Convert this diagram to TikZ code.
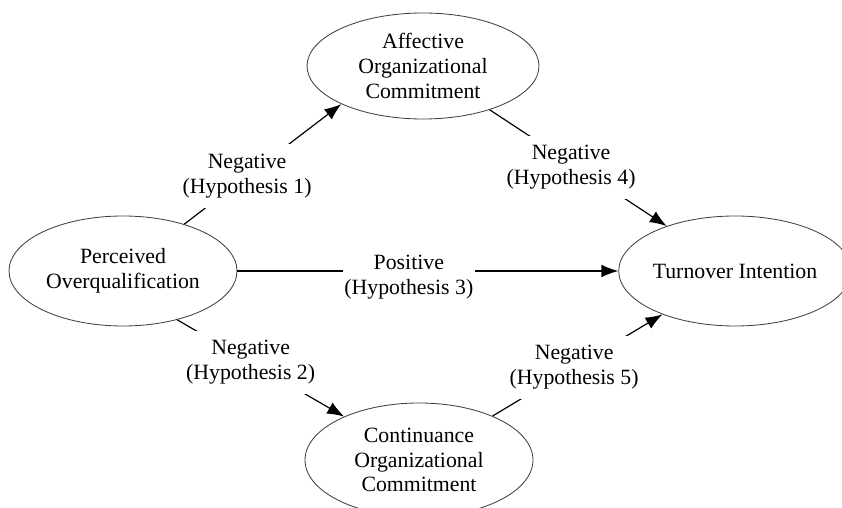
\documentclass[tikz,border=0pt]{standalone}
\usepackage{fontspec}
\setmainfont{Liberation Serif}
\usepackage{tikz}
\usetikzlibrary{shapes.geometric}
\usetikzlibrary{arrows.meta}

\tikzset{
	construct/.style={ellipse,draw=black!75,line width=0.6pt,inner sep=0pt,align=center,font=\fontsize{15.5}{17.5}\selectfont},
	hyp/.style={fill=white,inner xsep=1pt,inner ysep=7pt,align=center,font=\fontsize{15.5}{17.5}\selectfont},
	link/.style={line width=0.85pt,-{Latex[length=12pt,width=9pt]}}
}

\begin{document}
\begin{tikzpicture}
	\useasboundingbox (0,0) rectangle (21.05,12.675);
	
	\node [construct,minimum width=5.7cm,minimum height=2.75cm] (poq) at (3.075,5.9) {Perceived\\Overqualification};
	\node [construct,minimum width=5.8cm,minimum height=2.65cm] (aoc) at (10.575,11.025) {Affective\\Organizational\\Commitment};
	\node [construct,minimum width=5.7cm,minimum height=2.85cm] (coc) at (10.475,1.175) {Continuance\\Organizational\\Commitment};
	\node [construct,minimum width=5.5cm,minimum height=2.75cm] (toi) at (18.375,5.9) {Turnover Intention};
	
	\draw [link] (poq) -- node [hyp,pos=0.4] (h1) {Negative\\(Hypothesis 1)} (aoc.205);
	\draw [link] (poq.-42) -- node [hyp,pos=0.44] (h2) {Negative\\(Hypothesis 2)} (coc);
	\draw [link] (poq) -- node [hyp,pos=0.45,yshift=-0.15cm] (h3) {Positive\\(Hypothesis 3)} (toi);
	\draw [link] (aoc) -- node [hyp,pos=0.46,yshift=-0.1cm] (h4) {Negative\\(Hypothesis 4)} (toi);
	\draw [link] (coc) -- node [hyp,pos=0.48] (h5) {Negative\\(Hypothesis 5)} (toi);
\end{tikzpicture}
\end{document}
